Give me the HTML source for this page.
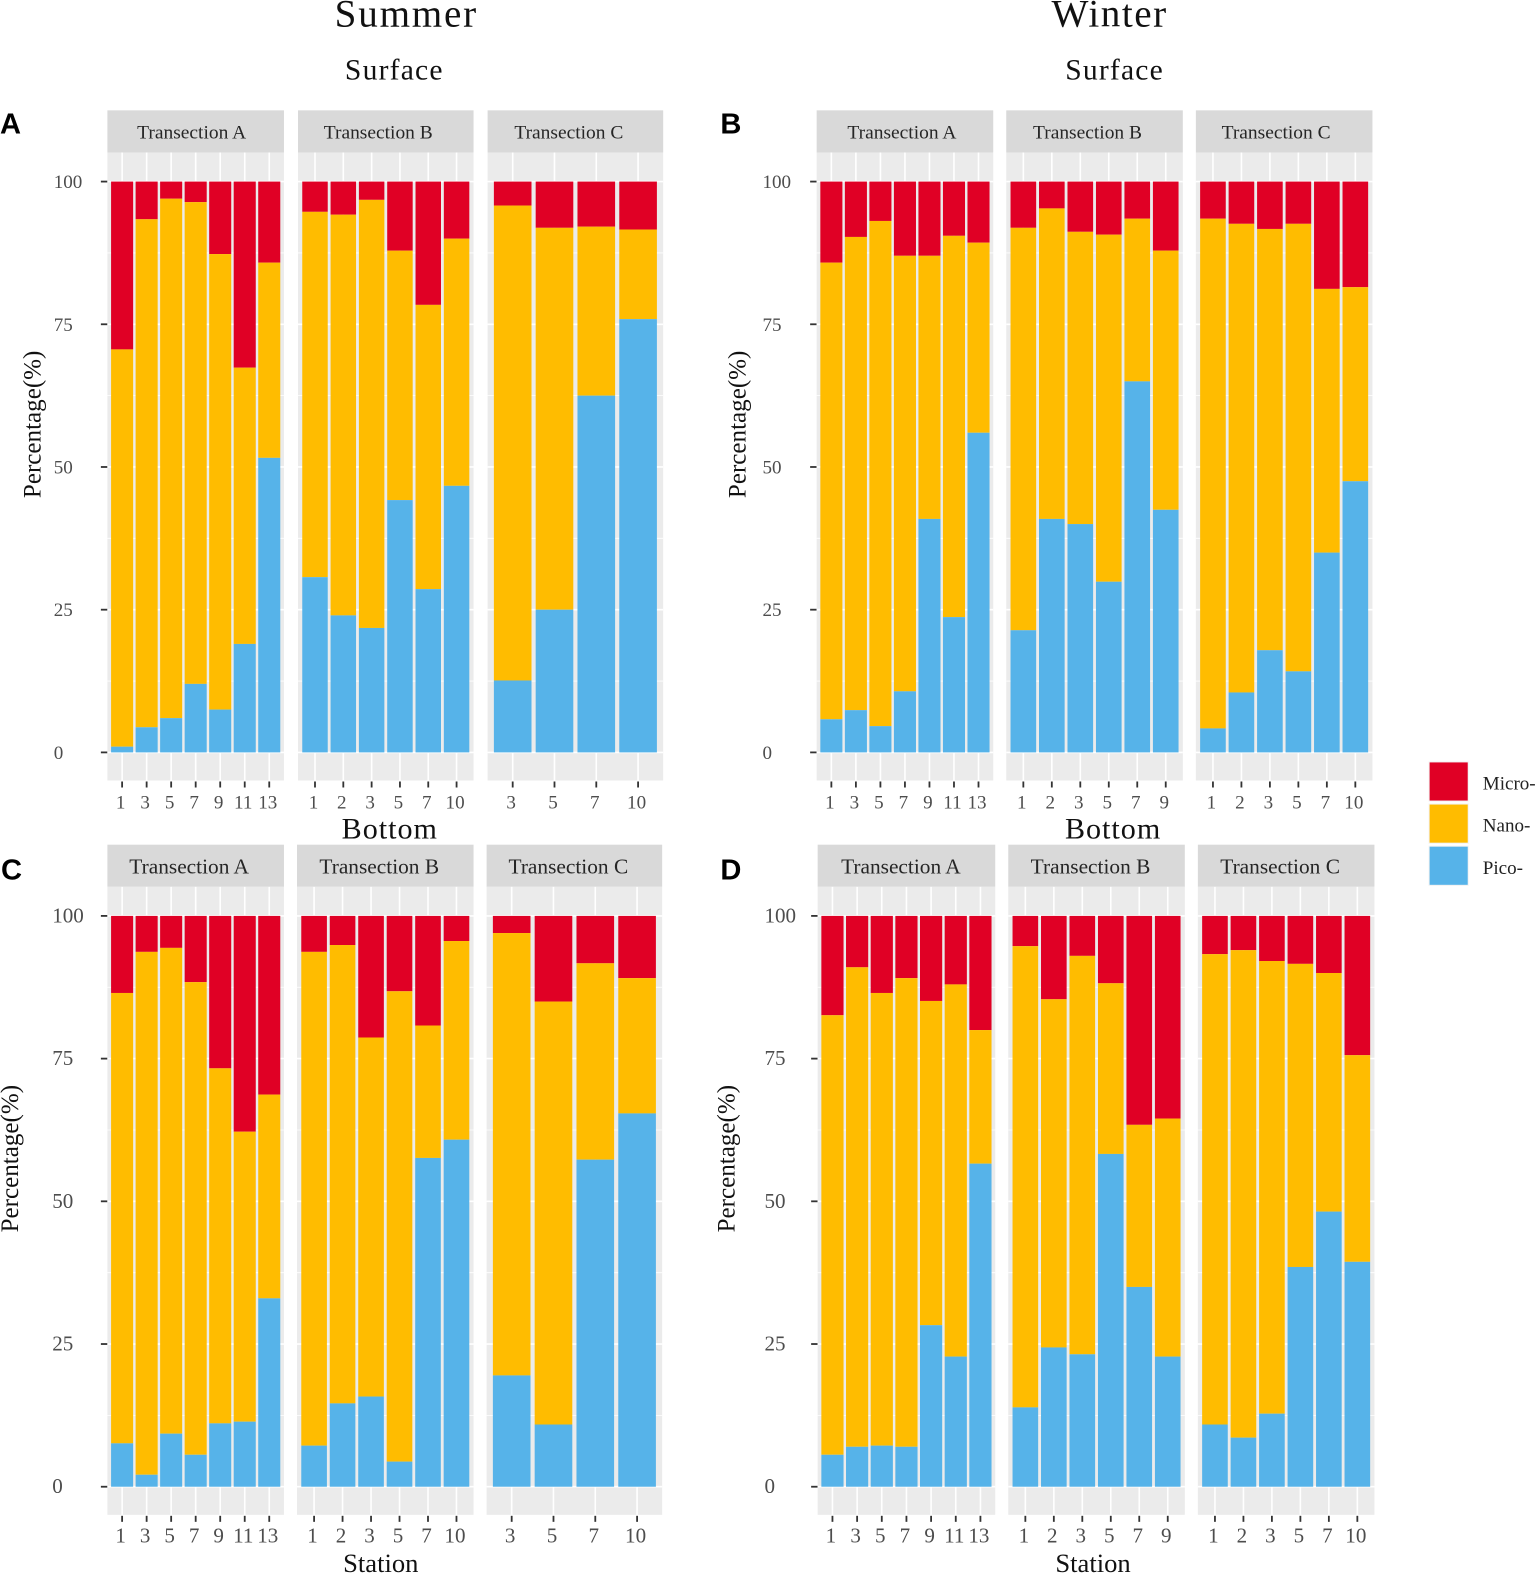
<!DOCTYPE html>
<html lang="en">
<head>
<meta charset="utf-8">
<title>Picoplankton, nanoplankton and microplankton percentage by station</title>
<style>
html,body{margin:0;padding:0;background:#fff;width:1536px;height:1573px;overflow:hidden}
svg{display:block}
text{font-family:"Liberation Serif",serif}
</style>
</head>
<body>
<svg id="chart" xmlns="http://www.w3.org/2000/svg" width="1536" height="1573" viewBox="0 0 1531 1568">
  <text x="405" y="26.6" font-size="39" letter-spacing="1.8" text-anchor="middle" fill="#111">Summer</text>
  <text x="1106" y="26.6" font-size="39" letter-spacing="1.5" text-anchor="middle" fill="#111">Winter</text>
  <text x="393" y="79" font-size="29.5" letter-spacing="1.2" text-anchor="middle" fill="#111">Surface</text>
  <text x="1111" y="79" font-size="29.5" letter-spacing="1.2" text-anchor="middle" fill="#111">Surface</text>
  <text x="388.5" y="836" font-size="30" letter-spacing="1" text-anchor="middle" fill="#111">Bottom</text>
  <text x="1109.5" y="836" font-size="30" letter-spacing="1" text-anchor="middle" fill="#111">Bottom</text>
  <text x="379.5" y="1567" font-size="26.5" text-anchor="middle" fill="#111">Station</text>
  <text x="1089.5" y="1567" font-size="26.5" text-anchor="middle" fill="#111">Station</text>
  <g>
    <rect x="1424.5" y="759.5" width="39" height="39" fill="#E00025" stroke="#f2f2f2" stroke-width="1"/>
    <rect x="1424.5" y="801.5" width="39" height="39" fill="#FFBC00" stroke="#f2f2f2" stroke-width="1"/>
    <rect x="1424.5" y="843.5" width="39" height="39" fill="#56B3E9" stroke="#f2f2f2" stroke-width="1"/>
    <text x="1478" y="787" font-size="19" fill="#222">Micro-</text>
    <text x="1478" y="829" font-size="19" fill="#222">Nano-</text>
    <text x="1478" y="871" font-size="19" fill="#222">Pico-</text>
  </g>
</svg>
<script>
// Tick labels
const yTicks = [0, 25, 50, 75, 100];

// Station categories
const stations7 = ['1', '3', '5', '7', '9', '11', '13'];
const stationsAB = ['1', '2', '3', '5', '7', '10'];
const stationsAC = ['3', '5', '7', '10'];
const stationsBB = ['1', '2', '3', '5', '7', '9'];
const stationsBC = ['1', '2', '3', '5', '7', '10'];

// Panel A (summer, surface): pico share, and cumulative pico + nano share (%)
const aPicoA = [1, 4.4, 6, 12, 7.5, 19, 51.6];
const aStackA = [70.6, 93.4, 97, 96.4, 87.3, 67.4, 85.8];
const aPicoB = [30.7, 24, 21.8, 44.2, 28.6, 46.7];
const aStackB = [94.7, 94.2, 96.8, 87.9, 78.4, 90];
const aPicoC = [12.6, 25, 62.5, 75.9];
const aStackC = [95.8, 91.9, 92.1, 91.6];

// Panel B (winter, surface)
const bPicoA = [5.8, 7.4, 4.6, 10.7, 40.9, 23.7, 56];
const bStackA = [85.8, 90.3, 93.1, 87, 87, 90.5, 89.3];
const bPicoB = [21.4, 40.9, 40, 29.9, 65, 42.5];
const bStackB = [91.9, 95.3, 91.2, 90.7, 93.5, 87.9];
const bPicoC = [4.2, 10.5, 17.9, 14.2, 35, 47.5];
const bStackC = [93.5, 92.6, 91.7, 92.6, 81.2, 81.5];

// Panel C (summer, bottom)
const cPicoA = [7.6, 2.1, 9.3, 5.6, 11.1, 11.4, 33];
const cStackA = [86.5, 93.7, 94.4, 88.4, 73.3, 62.2, 68.7];
const cPicoB = [7.2, 14.6, 15.8, 4.4, 57.6, 60.8];
const cStackB = [93.7, 94.9, 78.7, 86.8, 80.8, 95.6];
const cPicoC = [19.5, 10.9, 57.3, 65.4];
const cStackC = [97, 85, 91.7, 89.1];

// Panel D (winter, bottom)
const dPicoA = [5.6, 7, 7.2, 7, 28.3, 22.8, 56.6];
const dStackA = [82.6, 91, 86.5, 89.1, 85.1, 88, 80];
const dPicoB = [13.9, 24.4, 23.2, 58.3, 35, 22.8];
const dStackB = [94.7, 85.4, 93, 88.2, 63.4, 64.5];
const dPicoC = [10.9, 8.6, 12.8, 38.5, 48.2, 39.4];
const dStackC = [93.3, 94, 92.1, 91.6, 90, 75.6];

const SVG_NS = 'http://www.w3.org/2000/svg';
const chart = document.getElementById('chart');
const COLORS = { micro: '#E00025', nano: '#FFBC00', pico: '#56B3E9' };

function node(parent, tag, props) {
  const el = document.createElementNS(SVG_NS, tag);
  for (const k in props) el.setAttribute(k, props[k]);
  parent.appendChild(el);
  return el;
}

function drawFacet(panel, facet, name) {
  const g = node(chart, 'g', {});
  
  

  const width = facet.x1 - facet.x0;
  const step = width / (facet.stations.length - 1 + 1.2);
  const xScale = i => facet.x0 + step * (0.6 + i);
  const yScale = v => panel.y0 - v * (panel.y0 - panel.y100) / 100;

  const strip = node(g, 'rect', { x: facet.x0, y: panel.stripTop, width: width, height: panel.stripH, fill: '#D9D9D9' });
  
  

  const stripLabel = node(g, 'text', { x: facet.labelX, y: panel.stripTop + panel.stripH / 2 + panel.stripFont * 0.31 + 1, 'font-size': panel.stripFont, 'text-anchor': 'middle', fill: '#262626' });
  stripLabel.textContent = 'Transection ' + name;
  
  

  const top = panel.stripTop + panel.stripH;
  const plotBg = node(g, 'rect', { x: facet.x0, y: top, width: width, height: panel.bottom - top, fill: '#EBEBEB' });
  
  

  yTicks.forEach((t, i) => {
    const major = node(g, 'line', { x1: facet.x0, x2: facet.x1, y1: yScale(t), y2: yScale(t), stroke: '#fff', 'stroke-width': 1.6 });
    
    
    if (i < yTicks.length - 1) {
      const mid = (t + yTicks[i + 1]) / 2;
      const minor = node(g, 'line', { x1: facet.x0, x2: facet.x1, y1: yScale(mid), y2: yScale(mid), stroke: '#fff', 'stroke-width': 0.8 });
      
      
    }
  });

  facet.stations.forEach((label, i) => {
    const cx = xScale(i);
    const grid = node(g, 'line', { x1: cx, x2: cx, y1: top, y2: panel.bottom, stroke: '#fff', 'stroke-width': 1.6 });
    
    

    const barW = step * 0.9;
    const barX = cx - barW / 2;
    const pico = facet.pico[i];
    const stack = facet.stack[i];

    const micro = node(g, 'rect', { x: barX, y: yScale(100), width: barW, height: yScale(stack) - yScale(100), fill: COLORS.micro });
    
    

    const nano = node(g, 'rect', { x: barX, y: yScale(stack), width: barW, height: yScale(pico) - yScale(stack), fill: COLORS.nano });
    
    

    const picoBar = node(g, 'rect', { x: barX, y: yScale(pico), width: barW, height: yScale(0) - yScale(pico), fill: COLORS.pico });
    
    

    const tick = node(g, 'line', { x1: cx, x2: cx, y1: panel.bottom + 1, y2: panel.bottom + 7, stroke: '#333', 'stroke-width': 1.8 });
    
    

    const tickLabel = node(g, 'text', { x: cx - 1.5, y: panel.bottom + panel.xLabelOffset, 'font-size': panel.tickFont, 'text-anchor': 'middle', fill: '#4d4d4d' });
    tickLabel.textContent = label;
    
    
  });
}

function drawPanel(panel) {
  const letter = node(chart, 'text', { x: panel.letterX, y: panel.letterY, 'font-size': 29, 'font-weight': 'bold', fill: '#000', style: 'font-family:"Liberation Sans",sans-serif' });
  letter.textContent = panel.id;
  
  

  const yScale = v => panel.y0 - v * (panel.y0 - panel.y100) / 100;
  const axisRight = panel.facets[0].x0;

  yTicks.forEach(t => {
    const tick = node(chart, 'line', { x1: axisRight - 6.5, x2: axisRight, y1: yScale(t), y2: yScale(t), stroke: '#333', 'stroke-width': 1.8 });
    
    

    const tickLabel = node(chart, 'text', { x: panel.yLabelX, y: yScale(t) + 6.5, 'font-size': panel.tickFont, fill: '#4d4d4d' });
    tickLabel.textContent = String(t);
    
    
  });

  const yTitle = node(chart, 'text', { transform: 'translate(' + panel.yTitleX + ' ' + panel.yTitleY + ') rotate(-90)', 'font-size': 25, 'text-anchor': 'middle', fill: '#111' });
  yTitle.textContent = 'Percentage(%)';
  
  

  drawFacet(panel, panel.facets[0], 'A');
  drawFacet(panel, panel.facets[1], 'B');
  drawFacet(panel, panel.facets[2], 'C');
}

drawPanel({
  id: 'A', letterX: 0, letterY: 133, yLabelX: 53.5, yTitleX: 40.5, yTitleY: 423,
  stripTop: 110, stripH: 42, stripFont: 19.4, tickFont: 19, xLabelOffset: 28, y0: 750, y100: 181, bottom: 778,
  facets: [
    { x0: 107, x1: 283, labelX: 191, stations: stations7, pico: aPicoA, stack: aStackA },
    { x0: 297, x1: 472, labelX: 377, stations: stationsAB, pico: aPicoB, stack: aStackB },
    { x0: 486, x1: 661, labelX: 567, stations: stationsAC, pico: aPicoC, stack: aStackC }
  ]
});
drawPanel({
  id: 'B', letterX: 718, letterY: 133, yLabelX: 760, yTitleX: 743, yTitleY: 423,
  stripTop: 110, stripH: 42, stripFont: 19.4, tickFont: 19, xLabelOffset: 28, y0: 750, y100: 181, bottom: 778,
  facets: [
    { x0: 814, x1: 990, labelX: 899, stations: stations7, pico: bPicoA, stack: bStackA },
    { x0: 1003, x1: 1179, labelX: 1084, stations: stationsBB, pico: bPicoB, stack: bStackB },
    { x0: 1192, x1: 1368, labelX: 1272, stations: stationsBC, pico: bPicoC, stack: bStackC }
  ]
});
drawPanel({
  id: 'C', letterX: 1, letterY: 876.5, yLabelX: 52, yTitleX: 18, yTitleY: 1155,
  stripTop: 842, stripH: 42, stripFont: 21.3, tickFont: 21, xLabelOffset: 27.5, y0: 1482, y100: 913, bottom: 1510,
  facets: [
    { x0: 107, x1: 283, labelX: 188.5, stations: stations7, pico: cPicoA, stack: cStackA },
    { x0: 296, x1: 472, labelX: 378, stations: stationsAB, pico: cPicoB, stack: cStackB },
    { x0: 485, x1: 660, labelX: 566.5, stations: stationsAC, pico: cPicoC, stack: cStackC }
  ]
});
drawPanel({
  id: 'D', letterX: 718, letterY: 876.5, yLabelX: 762, yTitleX: 732, yTitleY: 1155,
  stripTop: 842, stripH: 42, stripFont: 21.3, tickFont: 21, xLabelOffset: 27.5, y0: 1482, y100: 913, bottom: 1510,
  facets: [
    { x0: 815, x1: 992, labelX: 898, stations: stations7, pico: dPicoA, stack: dStackA },
    { x0: 1005, x1: 1181, labelX: 1087, stations: stationsBB, pico: dPicoB, stack: dStackB },
    { x0: 1194, x1: 1370, labelX: 1276, stations: stationsBC, pico: dPicoC, stack: dStackC }
  ]
});
</script>
</body>
</html>
